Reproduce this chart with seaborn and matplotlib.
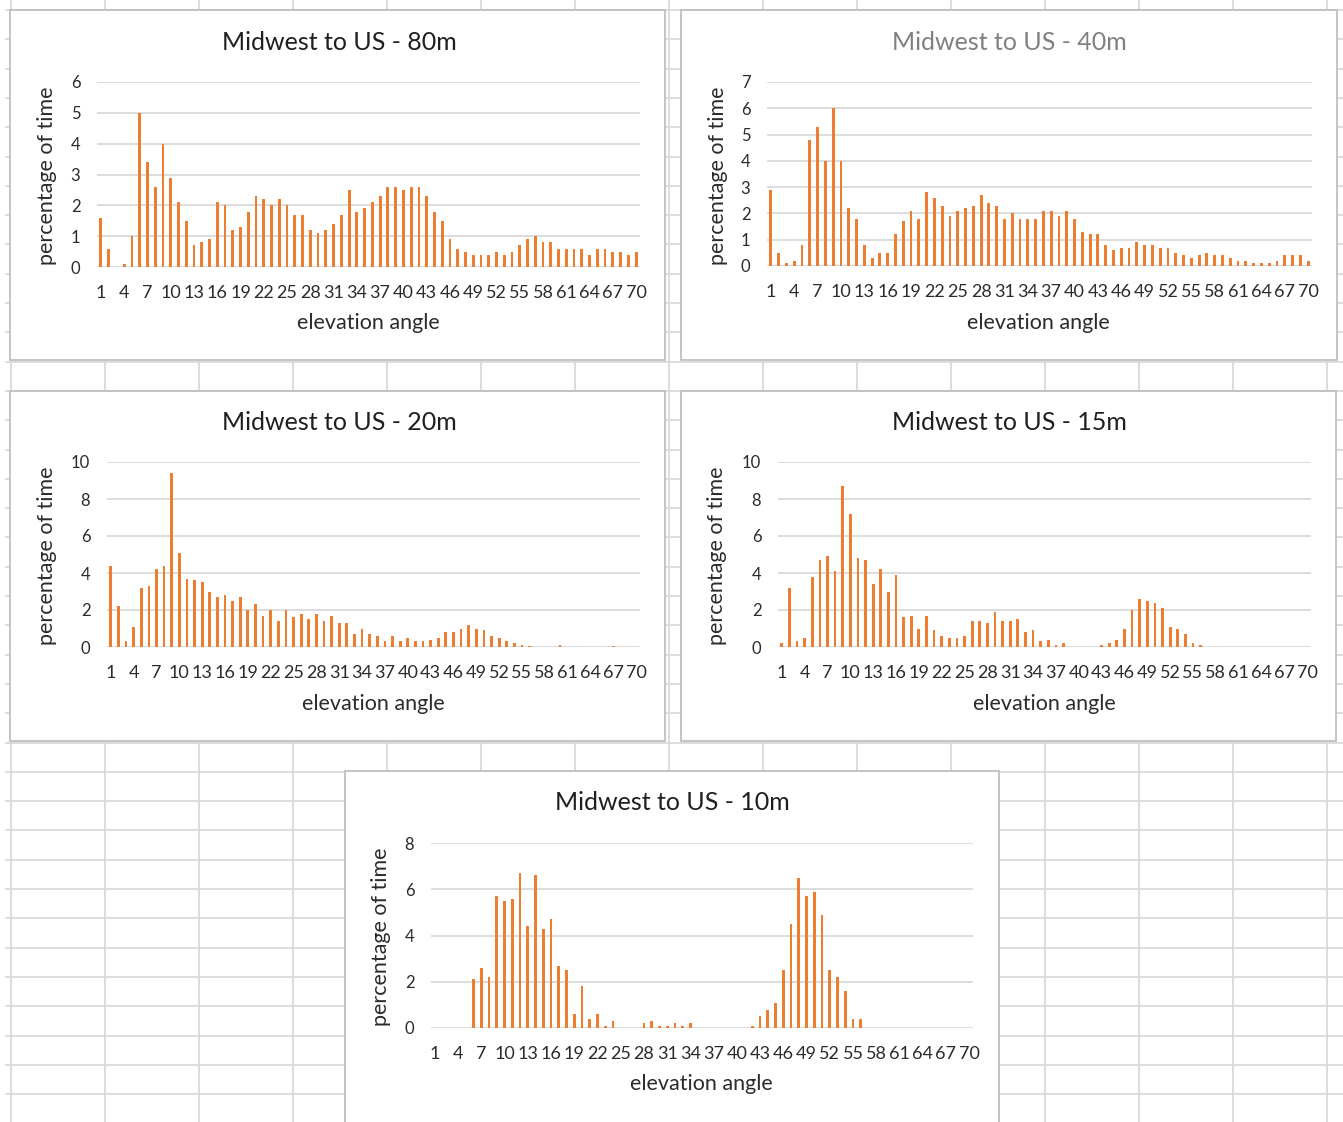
import numpy as np
import pandas as pd
import matplotlib
matplotlib.use("Agg")
import matplotlib.pyplot as plt
from matplotlib.patches import Rectangle
import seaborn as sns

# ---- data: percentage of time per elevation angle (1..70 degrees) ----
angles = list(range(1, 71))

pct_80m = [1.6, 0.6, 0.0, 0.1, 1.0, 5.0, 3.4, 2.6, 4.0, 2.9,
           2.1, 1.5, 0.7, 0.8, 0.9, 2.1, 2.0, 1.2, 1.3, 1.8,
           2.3, 2.2, 2.0, 2.2, 2.0, 1.7, 1.7, 1.2, 1.1, 1.2,
           1.4, 1.7, 2.5, 1.8, 1.9, 2.1, 2.3, 2.6, 2.6, 2.5,
           2.6, 2.6, 2.3, 1.8, 1.5, 0.9, 0.6, 0.5, 0.4, 0.4,
           0.4, 0.5, 0.4, 0.5, 0.7, 0.9, 1.0, 0.8, 0.8, 0.6,
           0.6, 0.6, 0.6, 0.4, 0.6, 0.6, 0.5, 0.5, 0.4, 0.5]

pct_40m = [2.9, 0.5, 0.1, 0.2, 0.8, 4.8, 5.3, 4.0, 6.0, 4.0,
           2.2, 1.8, 0.8, 0.3, 0.5, 0.5, 1.2, 1.7, 2.1, 1.8,
           2.8, 2.6, 2.3, 1.9, 2.1, 2.2, 2.3, 2.7, 2.4, 2.3,
           1.8, 2.0, 1.8, 1.8, 1.8, 2.1, 2.1, 1.9, 2.1, 1.8,
           1.3, 1.2, 1.2, 0.8, 0.6, 0.7, 0.7, 0.9, 0.8, 0.8,
           0.7, 0.7, 0.5, 0.4, 0.3, 0.4, 0.5, 0.4, 0.4, 0.3,
           0.2, 0.2, 0.1, 0.1, 0.1, 0.2, 0.4, 0.4, 0.4, 0.2]

pct_20m = [4.4, 2.2, 0.3, 1.1, 3.2, 3.3, 4.2, 4.4, 9.4, 5.1,
           3.7, 3.6, 3.5, 3.0, 2.7, 2.8, 2.5, 2.7, 2.0, 2.3,
           1.7, 2.0, 1.4, 2.0, 1.6, 1.8, 1.5, 1.8, 1.4, 1.7,
           1.3, 1.3, 0.7, 1.0, 0.7, 0.6, 0.3, 0.6, 0.3, 0.5,
           0.3, 0.3, 0.4, 0.5, 0.8, 0.8, 1.0, 1.2, 1.0, 0.9,
           0.6, 0.5, 0.3, 0.2, 0.1, 0.05, 0.0, 0.0, 0.0, 0.1,
           0.0, 0.0, 0.0, 0.0, 0.0, 0.0, 0.05, 0.0, 0.0, 0.0]

pct_15m = [0.2, 3.2, 0.3, 0.5, 3.8, 4.7, 4.9, 4.1, 8.7, 7.2,
           4.8, 4.7, 3.4, 4.2, 3.0, 3.9, 1.6, 1.7, 1.0, 1.7,
           0.9, 0.6, 0.5, 0.5, 0.6, 1.4, 1.4, 1.3, 1.9, 1.4,
           1.4, 1.5, 0.8, 0.9, 0.3, 0.4, 0.1, 0.2, 0.0, 0.0,
           0.0, 0.0, 0.1, 0.2, 0.4, 1.0, 2.0, 2.6, 2.5, 2.4,
           2.1, 1.1, 1.0, 0.7, 0.2, 0.1, 0.0, 0.0, 0.0, 0.0,
           0.0, 0.0, 0.0, 0.0, 0.0, 0.0, 0.0, 0.0, 0.0, 0.0]

pct_10m = [0.0, 0.0, 0.0, 0.0, 0.0, 2.1, 2.6, 2.2, 5.7, 5.5,
           5.6, 6.7, 4.4, 6.6, 4.3, 4.7, 2.7, 2.5, 0.6, 1.8,
           0.4, 0.6, 0.1, 0.3, 0.0, 0.0, 0.0, 0.2, 0.3, 0.1,
           0.1, 0.2, 0.1, 0.2, 0.0, 0.0, 0.0, 0.0, 0.0, 0.0,
           0.0, 0.1, 0.5, 0.8, 1.1, 2.5, 4.5, 6.5, 5.7, 5.9,
           4.9, 2.5, 2.2, 1.6, 0.4, 0.4, 0.0, 0.0, 0.0, 0.0,
           0.0, 0.0, 0.0, 0.0, 0.0, 0.0, 0.0, 0.0, 0.0, 0.0]

titles = ["Midwest to US - 80m", "Midwest to US - 40m", "Midwest to US - 20m",
          "Midwest to US - 15m", "Midwest to US - 10m"]
y_max = [6, 7, 10, 10, 8]
y_step = [1, 1, 2, 2, 2]
x_label = "elevation angle"
y_label = "percentage of time"

df = pd.DataFrame({"angle": angles, "80m": pct_80m, "40m": pct_40m,
                   "20m": pct_20m, "15m": pct_15m, "10m": pct_10m})
cols = ["80m", "40m", "20m", "15m", "10m"]

# ---- styling ----
sns.set_theme(style="white")
plt.rcParams["font.family"] = ["Lato", "DejaVu Sans"]

ORANGE = "#ED7D31"
GRID = "#D9D9D9"
SHEET = "#D9D9D9"
TEXT = "#2B2B2B"

W, H = 1343, 1122
fig = plt.figure(figsize=(W / 100, H / 100), dpi=100)
fig.patch.set_facecolor("white")

# worksheet cell grid behind the chart objects
bg = fig.add_axes([0, 0, 1, 1])
bg.set_xlim(0, W)
bg.set_ylim(H, 0)
bg.axis("off")
for x in np.arange(11, W, 94.0):
    bg.plot([x, x], [0, H], color=SHEET, lw=1.3, zorder=1)
for y in np.arange(10, H, 29.3):
    bg.plot([6, W], [y, y], color=SHEET, lw=1.3, zorder=1)

# chart frames (x0, y0, x1, y1) in pixels
frames = [(10, 10, 665, 360), (681, 10, 1337, 360),
          (10, 391, 665, 741), (681, 391, 1336, 741),
          (345, 771, 999, 1135)]
for x0, y0, x1, y1 in frames:
    bg.add_patch(Rectangle((x0, y0), x1 - x0, y1 - y0, facecolor="white",
                           edgecolor="#BFBFBF", lw=1.3, zorder=5))

# plot areas (left, top, right, bottom) in pixels
areas = [(97, 82, 640, 267), (767, 82, 1312, 266),
         (107, 462, 640, 647), (778, 462, 1311, 647),
         (431, 843, 973, 1028)]
title_pos = [(339, 43), (1009, 43), (339, 423), (1009, 423), (672, 803)]
xlab_pos = [(368, 323), (1038, 323), (373, 704), (1044, 704), (701, 1084)]
ylab_pos = [(47, 176), (718, 176), (47, 556), (717, 556), (381, 937)]
title_colors = ["#1F1F1F", "#808080", "#1F1F1F", "#1F1F1F", "#1F1F1F"]


def px(x, y):
    return x / W, 1 - y / H


for i, col in enumerate(cols):
    l, t, r, b = areas[i]
    ax = fig.add_axes([l / W, 1 - b / H, (r - l) / W, (b - t) / H])
    ax.set_facecolor("none")
    sns.barplot(data=df, x="angle", y=col, ax=ax, color=ORANGE,
                saturation=1, width=0.36, linewidth=0)
    ax.set_xlim(-0.5, len(angles) - 0.5)
    ax.set_ylim(0, y_max[i])
    ax.set_yticks(np.arange(0, y_max[i] + 0.01, y_step[i]))
    ax.set_xticks(range(0, len(angles), 3))
    ax.set_xticklabels([str(a) for a in angles[::3]])
    ax.yaxis.grid(True, color=GRID, lw=1.3)
    ax.xaxis.grid(False)
    ax.set_axisbelow(True)
    for s in ax.spines.values():
        s.set_visible(False)
    ax.tick_params(axis="y", length=0, pad=12, labelsize=12, labelcolor=TEXT)
    ax.tick_params(axis="x", length=0, pad=13, labelsize=13, labelcolor=TEXT)
    ax.set_xlabel("")
    ax.set_ylabel("")

    fig.text(*px(*title_pos[i]), titles[i], ha="center", va="center",
             fontsize=18, color=title_colors[i])
    fig.text(*px(*xlab_pos[i]), x_label, ha="center", va="center",
             fontsize=15.5, color=TEXT)
    fig.text(*px(*ylab_pos[i]), y_label, ha="center", va="center",
             rotation=90, fontsize=15.5, color=TEXT)

fig.savefig("out.png", dpi=100, facecolor="white")
